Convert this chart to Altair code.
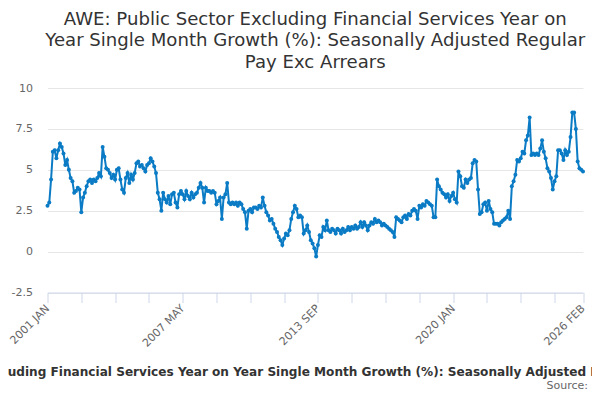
import altair as alt
import pandas as pd

# Monthly categories: 2001 JAN .. 2026 FEB
months = [p.strftime("%Y %b").upper() for p in pd.period_range("2001-01", "2026-02", freq="M")]

# Year-on-year single month growth (%)
values = [
    2.8, 3.0, 4.4, 6.1, 6.2, 5.7, 6.2, 6.6, 6.4, 6.0,
    5.3, 5.6, 5.0, 4.5, 4.3, 3.6, 3.7, 3.9, 3.8, 2.4,
    3.3, 3.6, 4.0, 4.3, 4.4, 4.2, 4.4, 4.3, 4.5, 4.8,
    4.6, 6.4, 5.8, 5.1, 5.0, 4.8, 4.5, 4.7, 4.4, 5.0,
    5.1, 4.4, 3.8, 3.6, 4.5, 4.8, 4.2, 4.7, 4.4, 4.8,
    5.4, 5.5, 5.2, 5.3, 5.1, 4.9, 5.3, 5.4, 5.7, 5.5,
    5.2, 4.8, 3.6, 3.2, 2.5, 3.6, 3.2, 3.0, 3.4, 2.9,
    3.5, 3.6, 3.0, 2.7, 3.5, 3.7, 3.5, 3.2, 3.7, 3.4,
    3.2, 3.6, 3.3, 3.5, 3.6, 3.9, 4.2, 3.9, 3.0, 3.9,
    3.7, 3.7, 3.6, 3.7, 3.6, 2.9, 3.1, 3.3, 2.0, 3.3,
    3.5, 4.2, 3.0, 2.9, 3.0, 2.9, 3.0, 2.8, 3.0, 2.9,
    2.6, 2.4, 1.4, 2.5, 2.6, 2.4, 2.7, 2.7, 2.6, 2.8,
    2.7, 3.3, 2.8, 2.4, 2.2, 1.9, 2.0, 1.7, 1.4, 1.2,
    0.9, 0.7, 0.4, 0.8, 1.1, 1.0, 1.3, 2.0, 2.4, 2.8,
    2.6, 2.1, 2.2, 2.1, 1.1, 1.3, 1.6, 1.2, 0.7, 0.5,
    0.2, -0.3, 0.4, 1.0, 0.9, 1.5, 1.3, 1.9, 1.3, 1.2,
    1.4, 1.3, 1.1, 1.4, 1.3, 1.1, 1.4, 1.2, 1.3, 1.5,
    1.3, 1.5, 1.4, 1.6, 1.4, 1.5, 1.8, 1.5, 1.8, 1.6,
    1.3, 1.6, 1.8, 1.7, 2.0, 1.8, 1.9, 1.8, 1.6, 1.7,
    1.6, 1.5, 1.4, 1.3, 1.2, 0.9, 2.1, 2.0, 1.9, 1.8,
    2.1, 2.2, 2.0, 2.3, 2.2, 2.5, 2.6, 2.5, 2.0, 2.8,
    2.7, 2.9, 2.8, 3.1, 3.0, 2.9, 2.8, 2.1, 2.1, 4.4,
    4.0, 3.8, 3.6, 3.5, 3.3, 3.5, 3.1, 3.4, 3.6, 3.2,
    3.0, 4.9, 4.6, 4.0, 3.9, 4.4, 4.2, 4.4, 4.5, 5.4,
    5.6, 5.5, 3.8, 2.3, 2.4, 2.9, 3.0, 2.5, 3.1, 2.6,
    2.4, 1.7, 1.7, 1.7, 1.6, 1.8, 1.9, 2.0, 2.1, 2.5,
    2.0, 4.0, 4.3, 4.7, 5.6, 5.5, 5.7, 6.1, 6.0, 6.8,
    7.1, 8.2, 5.9, 6.0, 5.9, 6.0, 5.9, 6.3, 6.8, 6.1,
    5.7, 5.1, 4.9, 4.5, 3.8, 4.3, 4.6, 6.2, 6.2, 6.0,
    5.6, 6.2, 5.9, 6.1, 7.0, 8.5, 8.5, 7.5, 5.5, 5.1,
    5.0, 4.9,
]

y_ticks = [-2.5, 0, 2.5, 5, 7.5, 10]
tick_idx = list(range(0, 301, 19)) + [len(months) - 1]
label_idx = [0, 76, 152, 228, len(months) - 1]

title_lines = [
    "AWE: Public Sector Excluding Financial Services Year on",
    "Year Single Month Growth (%): Seasonally Adjusted Regular",
    "Pay Exc Arrears",
]
axis_title = ("AWE: Public Sector Excluding Financial Services Year on Year Single Month "
              "Growth (%): Seasonally Adjusted Regular Pay Exc Arrears")

label_expr = " : ".join(f"datum.value == {i} ? '{months[i]}'" for i in label_idx) + " : ''"

df = pd.DataFrame({"idx": list(range(len(months))), "month": months, "value": values})

FONT = "DejaVu Sans"
BLUE = "#0a7bc4"

base = alt.Chart(df).encode(
    x=alt.X(
        "idx:Q",
        scale=alt.Scale(domain=[0, len(months) - 1], nice=False, zero=False),
        axis=alt.Axis(
            values=tick_idx,
            labelExpr=label_expr,
            labelAngle=-45,
            labelAlign="right",
            labelBaseline="middle",
            labelPadding=4,
            labelFont=FONT,
            labelFontSize=11,
            labelColor="#666666",
            labelOverlap=False,
            labelBound=False,
            labelFlush=False,
            tickColor="#ccd6eb",
            tickSize=10,
            domainColor="#ccd6eb",
            grid=False,
            title=axis_title,
            titleFont=FONT,
            titleFontSize=12.1,
            titleFontWeight="bold",
            titleColor="#333333",
            titleAlign="center",
            titleBaseline="alphabetic",
            titleX=252.5,
            titleY=82.5,
        ),
    ),
    y=alt.Y(
        "value:Q",
        scale=alt.Scale(domain=[-2.5, 10], nice=False, zero=False),
        axis=alt.Axis(
            values=y_ticks,
            labelExpr="datum.value + ''",
            labelFont=FONT,
            labelFontSize=11,
            labelColor="#666666",
            labelPadding=15,
            domain=False,
            ticks=False,
            gridColor="#e6e6e6",
            title=None,
        ),
    ),
)

line = base.mark_line(color=BLUE, strokeWidth=2)
points = base.mark_point(filled=True, size=16, color=BLUE, opacity=1)

source = alt.Chart(pd.DataFrame({"t": ["Source:"]})).mark_text(
    align="right", baseline="middle", font=FONT, fontSize=11, color="#666666"
).encode(x=alt.value(540.5), y=alt.value(298), text="t:N")

chart = alt.layer(line, points, source).properties(
    width=535.5,
    height=204.5,
    autosize=alt.AutoSizeParams(type="none"),
    padding={"left": 39.5, "top": 80, "right": 9, "bottom": 99.5},
    title=alt.Title(
        title_lines,
        font=FONT,
        fontSize=18.1,
        fontWeight="normal",
        color="#333333",
        anchor="middle",
        frame="group",
        lineHeight=21.5,
        offset=10,
    ),
).configure_view(stroke=None)

chart.save("out.html", embed_options={"renderer": "svg", "actions": False})
